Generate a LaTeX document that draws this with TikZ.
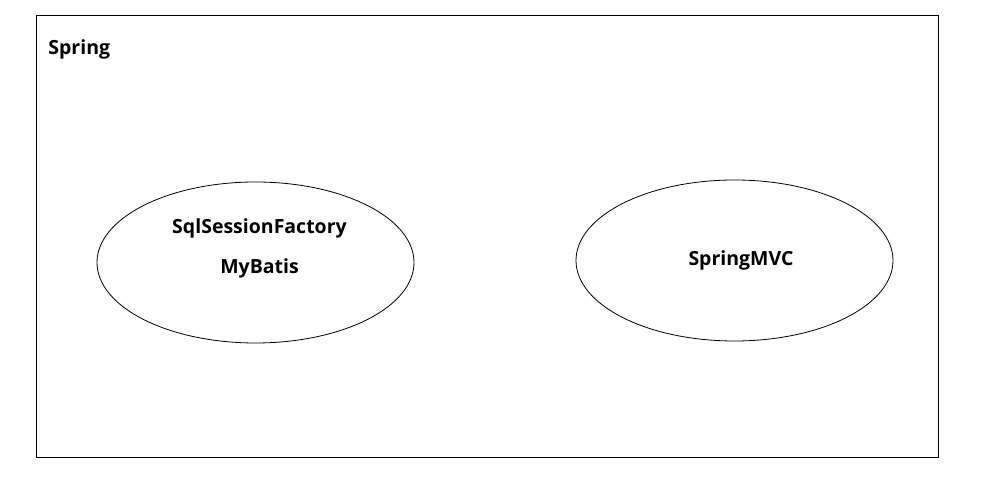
\documentclass[tikz,border=0pt]{standalone}
\usepackage{fontspec}
\setmainfont{Open Sans}
\usetikzlibrary{shapes.geometric, positioning}

\begin{document}
\begin{tikzpicture}[x=1pt, y=1pt, line width=0.8pt,
	label/.style	= {font=\bfseries\fontsize{19.5}{23}\selectfont, inner sep=0pt},
	blob/.style		= {ellipse, draw, inner sep=0pt, minimum width=317pt, minimum height=161pt}]
	\useasboundingbox (0,0) rectangle (983,489);

	\node[draw, anchor=north west, inner sep=0pt,
		minimum width=902pt, minimum height=442pt] 	(frame) at (36,474) 	{};
	\node[label, anchor=west] 						(spring) at (48,440) 	{Spring};

	\node[blob] 				(A) at (255.5,226.5) 	{};
	\node[blob] 				(B) at (734.5,228.5) 	{};

	\node[label] 				(sql) at (259.5,261) 	{SqlSessionFactory};
	\node[label] 				(mybatis) [below=20pt of sql] 	{MyBatis};
	\node[label] 				(mvc) at (741,229) 		{SpringMVC};
\end{tikzpicture}
\end{document}
